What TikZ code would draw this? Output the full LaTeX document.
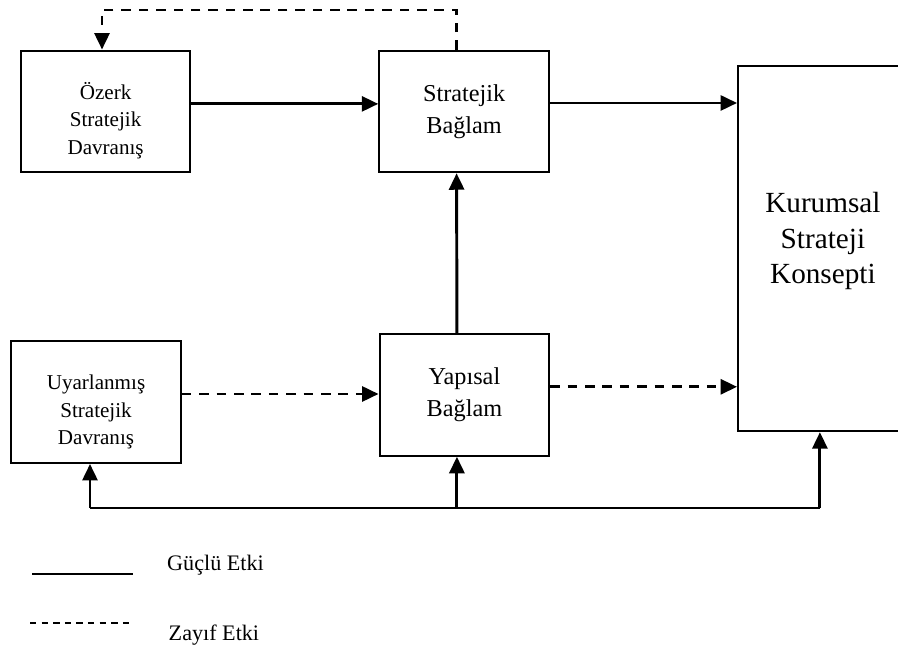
\documentclass[tikz,border=0pt]{standalone}
\usepackage{fontspec}
\setmainfont{Liberation Serif}
\usetikzlibrary{arrows.meta,positioning}

\begin{document}
\begin{tikzpicture}[
    kutu/.style={draw, line width=2.1pt, inner sep=0pt,
                 minimum width=5.65cm, minimum height=4.05cm},
    kucuk/.style={align=center, font=\fontsize{20}{26}\selectfont},
    orta/.style={align=center, font=\fontsize{23}{30.5}\selectfont},
    ok/.style={line width=2.8pt, -{Triangle[length=0.55cm,width=0.5cm]}},
    kesik/.style={dash pattern=on 9pt off 7.5pt}
  ]
  \useasboundingbox (0,0) rectangle (29.933,21.633);
  % kutular
  \node[kutu] (ozerk) at (3.52,17.92) {};
  \node[kutu] (strat) at (15.47,17.92) {};
  \node[kutu] (uyar) at (3.2,8.23) {};
  \node[kutu] (yap) at (15.48,8.47) {};
  \node[kutu, minimum height=12.17cm] (kur) at (27.43,13.35) {};
  % yazilar
  \node[kucuk] (ozerkyazi) at ([yshift=-0.3cm]ozerk.center) {\"Ozerk\\Stratejik\\Davran\i\c{s}};
  \node[orta] (stratyazi) at (strat.center) {Stratejik\\Ba\u{g}lam};
  \node[kucuk] (uyaryazi) at ([yshift=-0.33cm]uyar.center) {Uyarlanm\i\c{s}\\Stratejik\\Davran\i\c{s}};
  \node[orta] (yapyazi) at (yap.center) {Yap\i sal\\Ba\u{g}lam};
  \node[align=center, font=\fontsize{27.7}{33.5}\selectfont] (kuryazi)
     at ([yshift=0.24cm]kur.center) {Kurumsal\\Strateji\\Konsepti};
  % guclu etkiler
  \draw[ok] ([yshift=0.25cm]ozerk.east) -- ([yshift=0.25cm]ozerk.east -| strat.west);
  \draw[ok] ([yshift=0.28cm]strat.east) -- ([yshift=0.28cm]strat.east -| kur.west);
  \draw[ok] ([xshift=-0.25cm]yap.north) -- ([xshift=-0.25cm]strat.south);
  % zayif etkiler
  \draw[ok, kesik] ([yshift=0.27cm]uyar.east) -- ([yshift=0.27cm]uyar.east -| yap.west);
  \draw[ok, kesik] ([yshift=0.27cm]yap.east) -- ([yshift=0.27cm]yap.east -| kur.west);
  \coordinate (ust) at (0,21.3);
  \draw[ok, kesik] ([xshift=-0.25cm]strat.north) -- ([xshift=-0.25cm]strat.north |- ust)
     -- ([xshift=-0.12cm]ozerk.north |- ust) -- ([xshift=-0.12cm]ozerk.north);
  % alt geri besleme
  \coordinate (bl) at (3.0,4.7);
  \coordinate (bm) at (15.23,4.7);
  \coordinate (br) at (27.33,4.7);
  \draw[line width=2.2pt] (bl) -- (br);
  \draw[ok] (bl) -- (bl |- uyar.south);
  \draw[ok] (bm) -- (bm |- yap.south);
  \draw[ok] (br) -- (br |- kur.south);
  % aciklama
  \coordinate (g1) at (1.07,2.5);
  \coordinate (g2) at (4.43,2.5);
  \coordinate (z1) at (1.0,0.87);
  \coordinate (z2) at (4.4,0.87);
  \draw[line width=2.2pt] (g1) -- (g2);
  \draw[line width=1.9pt, dash pattern=on 6pt off 5pt] (z1) -- (z2);
  \node[anchor=west, font=\fontsize{21}{25}\selectfont] (guclu) at (5.45,2.8) {G\"u\c{c}l\"u Etki};
  \node[anchor=west, font=\fontsize{21}{25}\selectfont] (zayif) at (5.5,0.47) {Zay\i f Etki};
\end{tikzpicture}
\end{document}
